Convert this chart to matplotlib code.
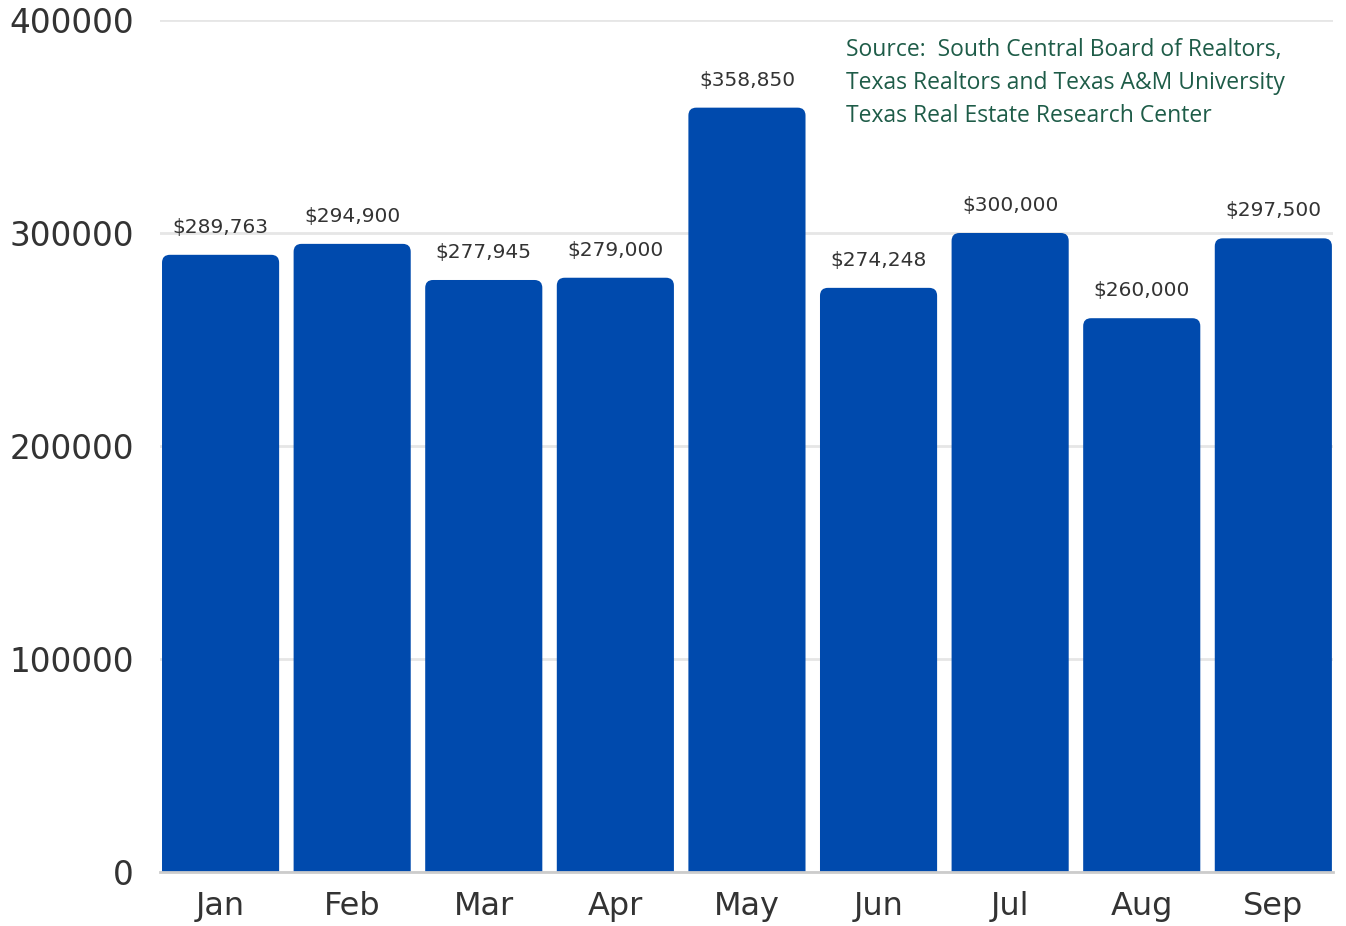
import numpy as np
import matplotlib.pyplot as plt
from matplotlib.patches import FancyBboxPatch

# months and median prices
months = ["Jan", "Feb", "Mar", "Apr", "May", "Jun", "Jul", "Aug", "Sep"]
prices = [289763, 294900, 277945, 279000, 358850, 274248, 300000, 260000, 297500]
labels = ["$289,763", "$294,900", "$277,945", "$279,000", "$358,850",
          "$274,248", "$300,000", "$260,000", "$297,500"]
yticks = [0, 100000, 200000, 300000, 400000]

source_lines = ["Source:  South Central Board of Realtors,",
                "Texas Realtors and Texas A&M University",
                "Texas Real Estate Research Center"]

fig = plt.figure(figsize=(13.46, 9.26), dpi=100)
ax = fig.add_axes([0.1189, 0.0583, 0.8715, 0.9201])

x = np.arange(len(months))
bars = ax.bar(x, prices, width=0.89, color="#004aad", zorder=3)

# swap the plain bars for ones with rounded top corners
# (bottom goes below 0 so the axes clip its rounding away)
aspect = (400000 / 852) * 131.6
for b in bars:
    b.set_visible(False)
    p = FancyBboxPatch((b.get_x(), -30000), b.get_width(), b.get_height() + 30000,
                       boxstyle="round,pad=0,rounding_size=0.06",
                       mutation_aspect=aspect, facecolor="#004aad",
                       edgecolor="none", zorder=3)
    ax.add_patch(p)

for b, lab in zip(bars, labels):
    ax.annotate(lab, (b.get_x() + b.get_width() / 2, b.get_height()),
                xytext=(0, 13), textcoords="offset points",
                ha="center", va="bottom", fontsize=14.5, color="#333333")

ax.set_xlim(-0.46, 8.454)
ax.set_ylim(0, 400000)
ax.set_yticks(yticks)
ax.set_yticklabels([str(t) for t in yticks], fontsize=23.5, color="#333333")
ax.set_xticks(x)
ax.set_xticklabels(months, fontsize=23, color="#333333")
ax.tick_params(axis="both", length=0)
ax.tick_params(axis="y", pad=19)
ax.tick_params(axis="x", pad=14)

ax.grid(axis="y", color="#e6e6e6", linewidth=2, zorder=0)
for s in ["top", "right", "left"]:
    ax.spines[s].set_visible(False)
ax.spines["bottom"].set_color("#cccccc")
ax.spines["bottom"].set_linewidth(2)
ax.spines["bottom"].set_zorder(4)

for i, line in enumerate(source_lines):
    fig.text(846 / 1346, 1 - (50 + 33 * i) / 926, line, fontsize=16.5,
             family="Open Sans", color="#1e5c48", ha="left", va="center")

fig.savefig("out.png", dpi=100)
